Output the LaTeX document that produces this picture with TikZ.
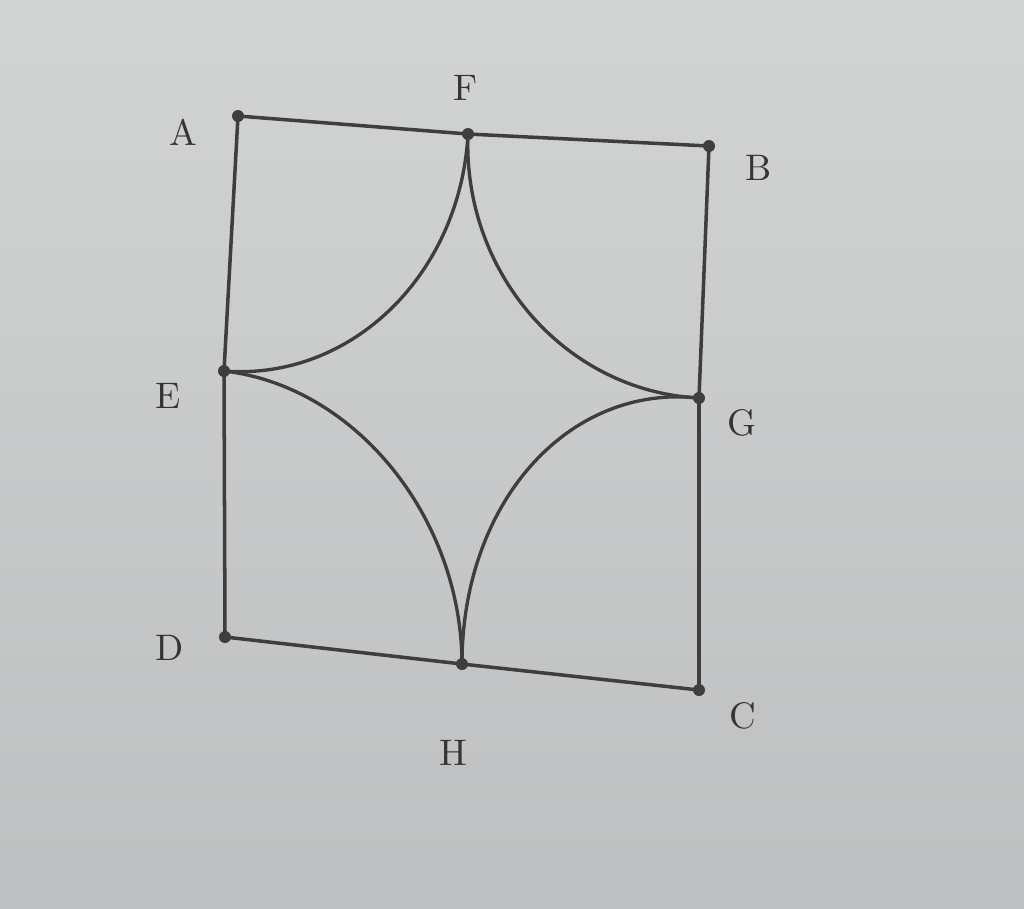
\documentclass[tikz,border=0pt]{standalone}
\usetikzlibrary{calc}
\definecolor{bgtop}{HTML}{D2D3D3}
\definecolor{bgbot}{HTML}{BEBFC0}
\definecolor{ink}{HTML}{3E3E3E}
\definecolor{labink}{HTML}{353535}
\begin{document}
\begin{tikzpicture}[x=0.01cm,y=-0.01cm,
  edge/.style={draw=ink,line width=1pt},
  arcline/.style={draw=ink,line width=0.95pt},
  pt/.style={fill=ink,draw=none},
  lab/.style={text=labink,font=\fontsize{10.5}{12}\selectfont,inner sep=0pt}]
\shade[top color=bgtop,bottom color=bgbot] (0,0) rectangle (1024,908);
\useasboundingbox (0,0) rectangle (1024,908);
\coordinate (A) at (238,116);
\coordinate (B) at (709,146);
\coordinate (C) at (699,690);
\coordinate (D) at (225,637);
\coordinate (E) at (224,371);
\coordinate (F) at (468,134);
\coordinate (G) at (699,398);
\coordinate (H) at (462,664);
\def\k{0.5523}
\draw[edge] (A) -- (F) -- (B) -- (G) -- (C) -- (H) -- (D) -- (E) -- cycle;
% arcs centred at the corners
\draw[arcline] (F) .. controls ($(F)+\k*(E)-\k*(A)$) and ($(E)+\k*(F)-\k*(A)$) .. (E);
\draw[arcline] (F) .. controls ($(F)+\k*(G)-\k*(B)$) and ($(G)+\k*(F)-\k*(B)$) .. (G);
\draw[arcline] (G) .. controls ($(G)+\k*(H)-\k*(C)$) and ($(H)+\k*(G)-\k*(C)$) .. (H);
\draw[arcline] (H) .. controls ($(H)+\k*(E)-\k*(D)$) and ($(E)+\k*(H)-\k*(D)$) .. (E);
\foreach \p in {A,B,C,D,E,F,G,H}{\fill[pt] (\p) circle (6);}
\node[lab] (lA) at (183,132) {A};
\node[lab] (lF) at (466,88) {F};
\node[lab] (lB) at (759,168) {B};
\node[lab] (lE) at (168,396) {E};
\node[lab] (lG) at (742,423) {G};
\node[lab] (lD) at (170,648) {D};
\node[lab] (lC) at (743,716) {C};
\node[lab] (lH) at (453,753) {H};
\end{tikzpicture}
\end{document}
